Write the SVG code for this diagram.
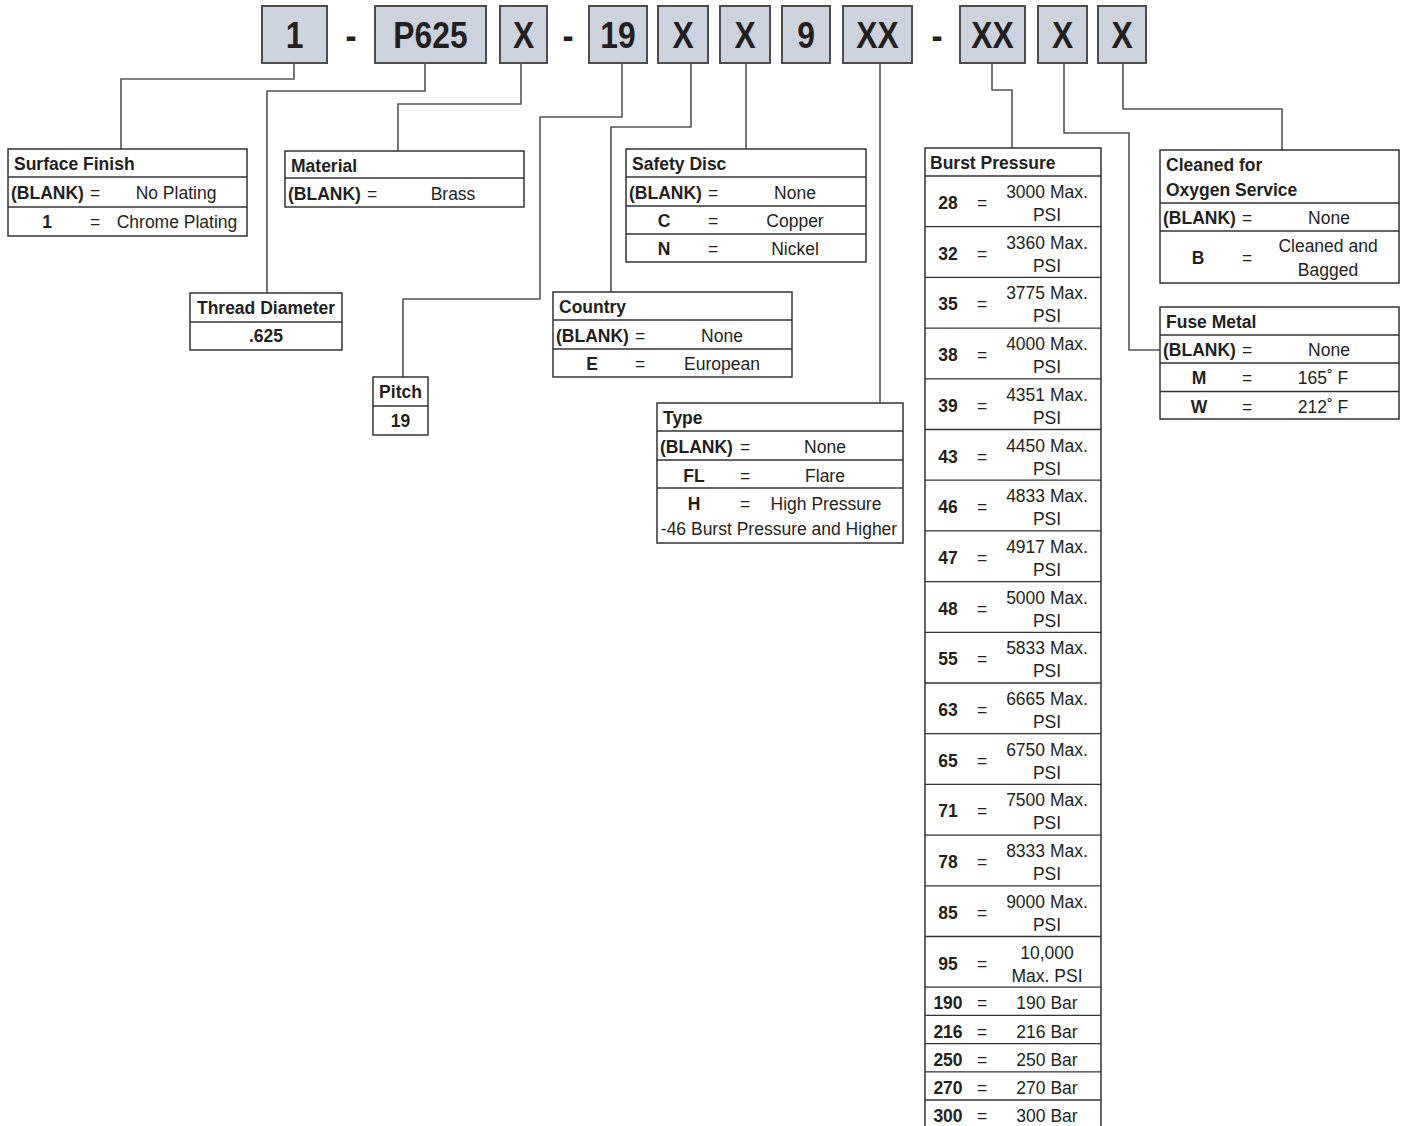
<svg xmlns="http://www.w3.org/2000/svg" width="1404" height="1126" viewBox="0 0 1404 1126">
<style>
.bg{fill:#fff}
.box{fill:#cdd3de;stroke:#4d4d4f;stroke-width:2}
.big{font-family:"Liberation Sans",Arial,sans-serif;font-weight:bold;font-size:37px;fill:#231f20;text-anchor:middle}
.tb{fill:#fff;stroke:#333;stroke-width:1.5}
.ln{stroke:#333;stroke-width:1.3}
.t{font-family:"Liberation Sans",Arial,sans-serif;font-size:17.5px;fill:#231f20}
.b{font-weight:bold}
.c{text-anchor:middle}
.conn{fill:none;stroke:#555;stroke-width:1.6}
</style>
<rect class="bg" x="0" y="0" width="1404" height="1126"/>

<g id="code">
  <g id="seg-1"><rect class="box" x="262" y="6" width="65" height="57"/><text class="big" transform="translate(294.5,48) scale(0.86,1)">1</text></g>
  <text class="big" transform="translate(351,48) scale(0.9,1)">-</text>
  <g id="seg-p625"><rect class="box" x="375" y="6" width="111" height="57"/><text class="big" transform="translate(430.5,48) scale(0.86,1)">P625</text></g>
  <g id="seg-x1"><rect class="box" x="500" y="6" width="47" height="57"/><text class="big" transform="translate(523.5,48) scale(0.86,1)">X</text></g>
  <text class="big" transform="translate(568,48) scale(0.9,1)">-</text>
  <g id="seg-19"><rect class="box" x="589" y="6" width="58" height="57"/><text class="big" transform="translate(618,48) scale(0.86,1)">19</text></g>
  <g id="seg-x2"><rect class="box" x="658" y="6" width="50" height="57"/><text class="big" transform="translate(683,48) scale(0.86,1)">X</text></g>
  <g id="seg-x3"><rect class="box" x="720" y="6" width="50" height="57"/><text class="big" transform="translate(745,48) scale(0.86,1)">X</text></g>
  <g id="seg-9"><rect class="box" x="782" y="6" width="48" height="57"/><text class="big" transform="translate(806,48) scale(0.86,1)">9</text></g>
  <g id="seg-xx1"><rect class="box" x="843" y="6" width="69" height="57"/><text class="big" transform="translate(877.5,48) scale(0.86,1)">XX</text></g>
  <text class="big" transform="translate(937,48) scale(0.9,1)">-</text>
  <g id="seg-xx2"><rect class="box" x="960" y="6" width="65" height="57"/><text class="big" transform="translate(992.5,48) scale(0.86,1)">XX</text></g>
  <g id="seg-x4"><rect class="box" x="1038" y="6" width="49" height="57"/><text class="big" transform="translate(1062.5,48) scale(0.86,1)">X</text></g>
  <g id="seg-x5"><rect class="box" x="1098" y="6" width="48" height="57"/><text class="big" transform="translate(1122,48) scale(0.86,1)">X</text></g>
</g>

<g id="connectors">
  <path class="conn" d="M294,63 V79 H121 V149"/>
  <path class="conn" d="M425,63 V91 H267 V293"/>
  <path class="conn" d="M521,63 V104 H398 V151"/>
  <path class="conn" d="M622,63 V117 H540 V299 H403 V377"/>
  <path class="conn" d="M691,63 V127 H611 V292"/>
  <path class="conn" d="M746,63 V149"/>
  <path class="conn" d="M880,63 V403"/>
  <path class="conn" d="M992,63 V90 H1012 V148"/>
  <path class="conn" d="M1064,63 V133 H1129 V350 H1160"/>
  <path class="conn" d="M1123,63 V109 H1282 V150"/>
</g>

<g id="surface-finish">
  <rect class="tb" x="8" y="149" width="239" height="87"/>
  <line class="ln" x1="8" y1="177" x2="247" y2="177"/>
  <line class="ln" x1="8" y1="207" x2="247" y2="207"/>
  <text class="t b" x="14" y="170">Surface Finish</text>
  <text class="t b" x="11" y="199">(BLANK)</text><text class="t c" x="95" y="199">=</text><text class="t c" x="176" y="199">No Plating</text>
  <text class="t b c" x="47" y="228">1</text><text class="t c" x="95" y="228">=</text><text class="t c" x="177" y="228">Chrome Plating</text>
</g>

<g id="material">
  <rect class="tb" x="285" y="151" width="239" height="56"/>
  <line class="ln" x1="285" y1="178" x2="524" y2="178"/>
  <text class="t b" x="291" y="172">Material</text>
  <text class="t b" x="288" y="200">(BLANK)</text><text class="t c" x="372" y="200">=</text><text class="t c" x="453" y="200">Brass</text>
</g>

<g id="thread-diameter">
  <rect class="tb" x="190" y="293" width="152" height="57"/>
  <line class="ln" x1="190" y1="322" x2="342" y2="322"/>
  <text class="t b c" x="266" y="314">Thread Diameter</text>
  <text class="t b c" x="266" y="342">.625</text>
</g>

<g id="pitch">
  <rect class="tb" x="373" y="377" width="55" height="58"/>
  <line class="ln" x1="373" y1="406" x2="428" y2="406"/>
  <text class="t b c" x="400.5" y="398">Pitch</text>
  <text class="t b c" x="400.5" y="427">19</text>
</g>

<g id="safety-disc">
  <rect class="tb" x="626" y="149" width="240" height="113"/>
  <line class="ln" x1="626" y1="177" x2="866" y2="177"/>
  <line class="ln" x1="626" y1="206" x2="866" y2="206"/>
  <line class="ln" x1="626" y1="234" x2="866" y2="234"/>
  <text class="t b" x="632" y="170">Safety Disc</text>
  <text class="t b" x="629" y="199">(BLANK)</text><text class="t c" x="713" y="199">=</text><text class="t c" x="795" y="199">None</text>
  <text class="t b c" x="664" y="227">C</text><text class="t c" x="713" y="227">=</text><text class="t c" x="795" y="227">Copper</text>
  <text class="t b c" x="664" y="255">N</text><text class="t c" x="713" y="255">=</text><text class="t c" x="795" y="255">Nickel</text>
</g>

<g id="country">
  <rect class="tb" x="553" y="292" width="239" height="85"/>
  <line class="ln" x1="553" y1="320" x2="792" y2="320"/>
  <line class="ln" x1="553" y1="349" x2="792" y2="349"/>
  <text class="t b" x="559" y="313">Country</text>
  <text class="t b" x="556" y="342">(BLANK)</text><text class="t c" x="640" y="342">=</text><text class="t c" x="722" y="342">None</text>
  <text class="t b c" x="592" y="370">E</text><text class="t c" x="640" y="370">=</text><text class="t c" x="722" y="370">European</text>
</g>

<g id="type">
  <rect class="tb" x="657" y="403" width="246" height="140"/>
  <line class="ln" x1="657" y1="431" x2="903" y2="431"/>
  <line class="ln" x1="657" y1="460" x2="903" y2="460"/>
  <line class="ln" x1="657" y1="488" x2="903" y2="488"/>
  <text class="t b" x="663" y="424">Type</text>
  <text class="t b" x="660" y="453">(BLANK)</text><text class="t c" x="745" y="453">=</text><text class="t c" x="825" y="453">None</text>
  <text class="t b c" x="694" y="482">FL</text><text class="t c" x="745" y="482">=</text><text class="t c" x="825" y="482">Flare</text>
  <text class="t b c" x="694" y="510">H</text><text class="t c" x="745" y="510">=</text><text class="t c" x="826" y="510">High Pressure</text>
  <text class="t c" x="779" y="535">-46 Burst Pressure and Higher</text>
</g>

<g id="burst-pressure">
  <rect class="tb" x="925" y="148" width="176" height="981"/>
  <g class="ln">
    <line x1="925" y1="176" x2="1101" y2="176"/>
    <line x1="925" y1="226.7" x2="1101" y2="226.7"/>
    <line x1="925" y1="277.4" x2="1101" y2="277.4"/>
    <line x1="925" y1="328.1" x2="1101" y2="328.1"/>
    <line x1="925" y1="378.8" x2="1101" y2="378.8"/>
    <line x1="925" y1="429.5" x2="1101" y2="429.5"/>
    <line x1="925" y1="480.2" x2="1101" y2="480.2"/>
    <line x1="925" y1="530.9" x2="1101" y2="530.9"/>
    <line x1="925" y1="581.6" x2="1101" y2="581.6"/>
    <line x1="925" y1="632.3" x2="1101" y2="632.3"/>
    <line x1="925" y1="683" x2="1101" y2="683"/>
    <line x1="925" y1="733.7" x2="1101" y2="733.7"/>
    <line x1="925" y1="784.4" x2="1101" y2="784.4"/>
    <line x1="925" y1="835.1" x2="1101" y2="835.1"/>
    <line x1="925" y1="885.8" x2="1101" y2="885.8"/>
    <line x1="925" y1="936.5" x2="1101" y2="936.5"/>
    <line x1="925" y1="987.2" x2="1101" y2="987.2"/>
    <line x1="925" y1="1015.4" x2="1101" y2="1015.4"/>
    <line x1="925" y1="1043.6" x2="1101" y2="1043.6"/>
    <line x1="925" y1="1071.8" x2="1101" y2="1071.8"/>
    <line x1="925" y1="1100" x2="1101" y2="1100"/>
  </g>
  <text class="t b" x="930" y="169">Burst Pressure</text>
  <text class="t b c" x="948" y="209">28</text><text class="t c" x="982" y="209">=</text><text class="t c" x="1047" y="198">3000 Max.</text><text class="t c" x="1047" y="221">PSI</text>
  <text class="t b c" x="948" y="259.7">32</text><text class="t c" x="982" y="259.7">=</text><text class="t c" x="1047" y="248.7">3360 Max.</text><text class="t c" x="1047" y="271.7">PSI</text>
  <text class="t b c" x="948" y="310.4">35</text><text class="t c" x="982" y="310.4">=</text><text class="t c" x="1047" y="299.4">3775 Max.</text><text class="t c" x="1047" y="322.4">PSI</text>
  <text class="t b c" x="948" y="361.1">38</text><text class="t c" x="982" y="361.1">=</text><text class="t c" x="1047" y="350.1">4000 Max.</text><text class="t c" x="1047" y="373.1">PSI</text>
  <text class="t b c" x="948" y="411.8">39</text><text class="t c" x="982" y="411.8">=</text><text class="t c" x="1047" y="400.8">4351 Max.</text><text class="t c" x="1047" y="423.8">PSI</text>
  <text class="t b c" x="948" y="462.5">43</text><text class="t c" x="982" y="462.5">=</text><text class="t c" x="1047" y="451.5">4450 Max.</text><text class="t c" x="1047" y="474.5">PSI</text>
  <text class="t b c" x="948" y="513.2">46</text><text class="t c" x="982" y="513.2">=</text><text class="t c" x="1047" y="502.2">4833 Max.</text><text class="t c" x="1047" y="525.2">PSI</text>
  <text class="t b c" x="948" y="563.9">47</text><text class="t c" x="982" y="563.9">=</text><text class="t c" x="1047" y="552.9">4917 Max.</text><text class="t c" x="1047" y="575.9">PSI</text>
  <text class="t b c" x="948" y="614.6">48</text><text class="t c" x="982" y="614.6">=</text><text class="t c" x="1047" y="603.6">5000 Max.</text><text class="t c" x="1047" y="626.6">PSI</text>
  <text class="t b c" x="948" y="665.3">55</text><text class="t c" x="982" y="665.3">=</text><text class="t c" x="1047" y="654.3">5833 Max.</text><text class="t c" x="1047" y="677.3">PSI</text>
  <text class="t b c" x="948" y="716">63</text><text class="t c" x="982" y="716">=</text><text class="t c" x="1047" y="705">6665 Max.</text><text class="t c" x="1047" y="728">PSI</text>
  <text class="t b c" x="948" y="766.7">65</text><text class="t c" x="982" y="766.7">=</text><text class="t c" x="1047" y="755.7">6750 Max.</text><text class="t c" x="1047" y="778.7">PSI</text>
  <text class="t b c" x="948" y="817.4">71</text><text class="t c" x="982" y="817.4">=</text><text class="t c" x="1047" y="806.4">7500 Max.</text><text class="t c" x="1047" y="829.4">PSI</text>
  <text class="t b c" x="948" y="868.1">78</text><text class="t c" x="982" y="868.1">=</text><text class="t c" x="1047" y="857.1">8333 Max.</text><text class="t c" x="1047" y="880.1">PSI</text>
  <text class="t b c" x="948" y="918.8">85</text><text class="t c" x="982" y="918.8">=</text><text class="t c" x="1047" y="907.8">9000 Max.</text><text class="t c" x="1047" y="930.8">PSI</text>
  <text class="t b c" x="948" y="969.5">95</text><text class="t c" x="982" y="969.5">=</text><text class="t c" x="1047" y="958.5">10,000</text><text class="t c" x="1047" y="981.5">Max. PSI</text>
  <text class="t b c" x="948" y="1009.4">190</text><text class="t c" x="982" y="1009.4">=</text><text class="t c" x="1047" y="1009.4">190 Bar</text>
  <text class="t b c" x="948" y="1037.6">216</text><text class="t c" x="982" y="1037.6">=</text><text class="t c" x="1047" y="1037.6">216 Bar</text>
  <text class="t b c" x="948" y="1065.8">250</text><text class="t c" x="982" y="1065.8">=</text><text class="t c" x="1047" y="1065.8">250 Bar</text>
  <text class="t b c" x="948" y="1094">270</text><text class="t c" x="982" y="1094">=</text><text class="t c" x="1047" y="1094">270 Bar</text>
  <text class="t b c" x="948" y="1122">300</text><text class="t c" x="982" y="1122">=</text><text class="t c" x="1047" y="1122">300 Bar</text>
</g>

<g id="cleaned-oxygen">
  <rect class="tb" x="1160" y="150" width="239" height="133"/>
  <line class="ln" x1="1160" y1="203" x2="1399" y2="203"/>
  <line class="ln" x1="1160" y1="231" x2="1399" y2="231"/>
  <text class="t b" x="1166" y="171">Cleaned for</text>
  <text class="t b" x="1166" y="196">Oxygen Service</text>
  <text class="t b" x="1163" y="224">(BLANK)</text><text class="t c" x="1247" y="224">=</text><text class="t c" x="1329" y="224">None</text>
  <text class="t b c" x="1198" y="264">B</text><text class="t c" x="1247" y="264">=</text><text class="t c" x="1328" y="252">Cleaned and</text><text class="t c" x="1328" y="276">Bagged</text>
</g>

<g id="fuse-metal">
  <rect class="tb" x="1160" y="307" width="239" height="112"/>
  <line class="ln" x1="1160" y1="335" x2="1399" y2="335"/>
  <line class="ln" x1="1160" y1="363" x2="1399" y2="363"/>
  <line class="ln" x1="1160" y1="391.5" x2="1399" y2="391.5"/>
  <text class="t b" x="1166" y="328">Fuse Metal</text>
  <text class="t b" x="1163" y="356">(BLANK)</text><text class="t c" x="1247" y="356">=</text><text class="t c" x="1329" y="356">None</text>
  <text class="t b c" x="1199" y="384">M</text><text class="t c" x="1247" y="384">=</text><text class="t c" x="1323" y="384">165˚ F</text>
  <text class="t b c" x="1199" y="413">W</text><text class="t c" x="1247" y="413">=</text><text class="t c" x="1323" y="413">212˚ F</text>
</g>
</svg>
